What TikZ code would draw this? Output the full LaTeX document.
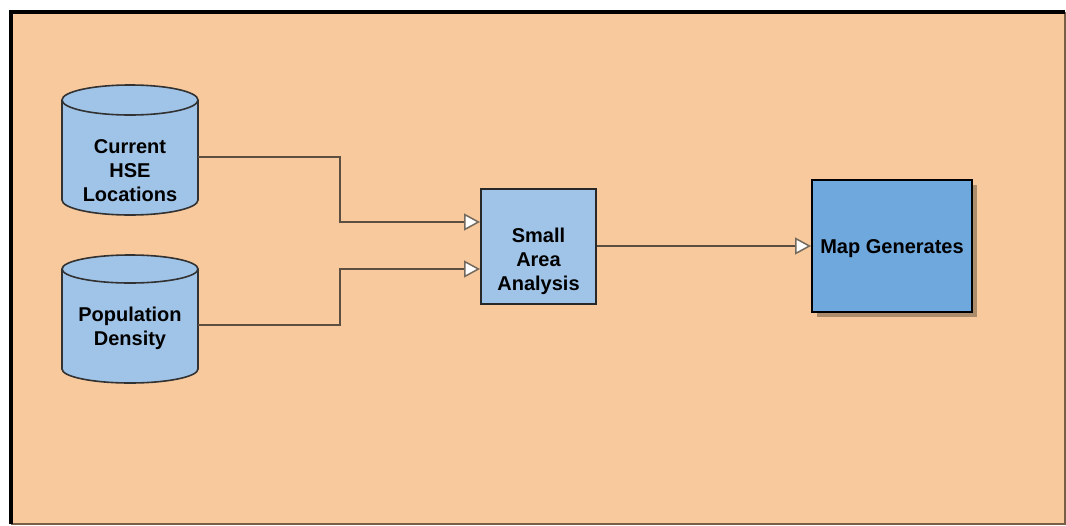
\documentclass[tikz,border=0pt]{standalone}
\usepackage{fontspec}
\setmainfont{Liberation Sans}
\usetikzlibrary{arrows.meta,shadows}

\definecolor{panel}{RGB}{248,201,156}
\definecolor{panelrim}{RGB}{120,95,70}
\definecolor{lightblue}{RGB}{160,196,232}
\definecolor{midblue}{RGB}{111,168,220}
\definecolor{wire}{RGB}{92,78,64}
\definecolor{rim}{RGB}{50,50,50}

\tikzset{
  lbl/.style={font=\bfseries\fontsize{10pt}{12pt}\selectfont, align=center, inner sep=0pt},
  cylshape/.style={draw=rim, line width=0.8pt, fill=lightblue},
  anchorbox/.style={inner sep=0pt, minimum width=68pt},
  procbox/.style={draw=rim!80!black, line width=1pt, fill=lightblue, inner sep=0pt,
                  minimum width=57.5pt, minimum height=57.5pt},
  outbox/.style={draw=black, line width=1pt, fill=midblue, inner sep=0pt,
                 minimum width=80pt, minimum height=66pt,
                 drop shadow={shadow xshift=2.5pt, shadow yshift=-2.5pt, opacity=0.3, fill=black}},
  flow/.style={draw=wire, line width=0.75pt,
               -{Triangle[length=8pt, width=8.5pt, fill=white, color=wire!85]}},
}

\begin{document}
\begin{tikzpicture}[x=0.5pt, y=-0.5pt]
  \useasboundingbox (0,0) rectangle (1066,525);

  % background panel
  \fill[panel] (11,12) rectangle (1065,524);
  \draw[panelrim, line width=0.8pt] (1065,12) -- (1065,524) -- (11,524);
  \draw[black, line width=1.6pt] (11,524) -- (11,12) -- (1065,12);

  % database: current locations
  \draw[cylshape] (62,100) -- (62,200)
      arc[start angle=180, end angle=360, x radius=34pt, y radius=7.5pt]
      -- (198,100)
      arc[start angle=0, end angle=180, x radius=34pt, y radius=7.5pt] -- cycle;
  \draw[rim, line width=0.8pt] (62,100)
      arc[start angle=180, end angle=360, x radius=34pt, y radius=7.5pt];
  \node[anchorbox, minimum height=57pt] (hse) at (130,157) {};
  \node[lbl] (hsetext) at (130,171) {Current\\HSE\\Locations};

  % database: population density
  \draw[cylshape] (62,269) -- (62,369)
      arc[start angle=180, end angle=360, x radius=34pt, y radius=7pt]
      -- (198,269)
      arc[start angle=0, end angle=180, x radius=34pt, y radius=7pt] -- cycle;
  \draw[rim, line width=0.8pt] (62,269)
      arc[start angle=180, end angle=360, x radius=34pt, y radius=7pt];
  \node[anchorbox, minimum height=50pt] (pop) at (130,325) {};
  \node[lbl] (poptext) at (130,328) {Population\\Density};

  % processing step
  \node[procbox] (sa) at (538.5,246) {};
  \node[lbl] (satext) at (538.5,261) {Small\\Area\\Analysis};

  % output
  \node[outbox] (map) at (892,246) {};
  \node[lbl] (maptext) at (892,249) {Map Generates};

  % connectors
  \draw[flow] (hse.east) -- (340,157) |- ([yshift=12pt]sa.west);
  \draw[flow] (pop.east) -- (340,325) |- ([yshift=-11.5pt]sa.west);
  \draw[flow] (sa.east) -- (map.west);
\end{tikzpicture}
\end{document}
